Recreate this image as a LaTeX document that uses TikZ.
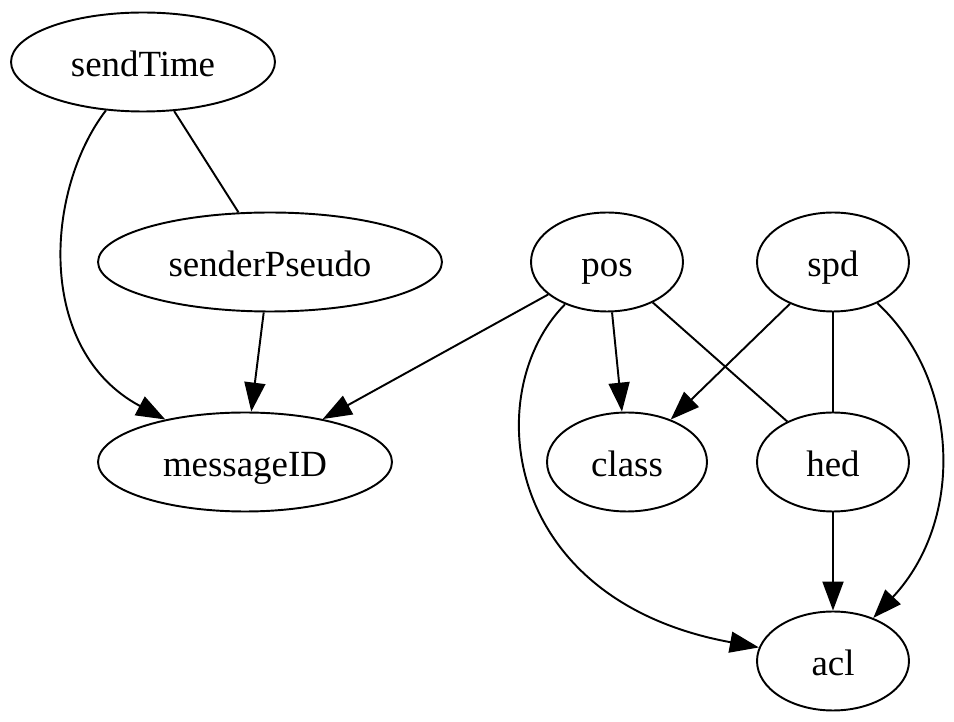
\documentclass[tikz,border=0pt]{standalone}
\usepackage{fontspec}
\setmainfont{Liberation Serif}
\usetikzlibrary{arrows.meta,shapes.geometric}

\begin{document}
\begin{tikzpicture}[
  x=0.02cm, y=-0.02cm,
  font=\fontsize{21}{25}\selectfont,
  var/.style={ellipse, draw=black, line width=1.1pt, inner sep=0pt, minimum height=1.98cm, text height=16pt, text depth=0pt},
  arr/.style={-{Triangle[length=0.58cm, width=0.42cm]}, line width=1.1pt},
  lnk/.style={line width=1.1pt}
]
\useasboundingbox (0,0) rectangle (954,722);
% upper row
\node[var, minimum width=5.28cm] (sendTime) at (143,62) {sendTime};
\node[var, minimum width=6.88cm] (senderPseudo) at (270,262) {senderPseudo};
\node[var, minimum width=3.04cm] (pos) at (607,262) {pos};
\node[var, minimum width=3.04cm] (spd) at (833,262) {spd};
% lower rows
\node[var, minimum width=5.88cm] (messageID) at (245,462) {messageID};
\node[var, minimum width=3.2cm] (class) at (627,462) {class};
\node[var, minimum width=3.04cm] (hed) at (833,462) {hed};
\node[var, minimum width=3.04cm] (acl) at (833,661) {acl};
% edges
\draw[arr] (sendTime) .. controls (45,190) and (35,350) .. (messageID);
\draw[lnk] (sendTime) -- (senderPseudo);
\draw[arr] (senderPseudo) -- (messageID);
\draw[arr] (pos) -- (messageID);
\draw[arr] (pos) -- (class);
\draw[lnk] (pos) -- (hed);
\draw[arr] (pos) .. controls (480,390) and (500,600) .. (acl);
\draw[arr] (spd) -- (class);
\draw[lnk] (spd) -- (hed);
\draw[arr] (spd) .. controls (960,380) and (965,520) .. (acl);
\draw[arr] (hed) -- (acl);
\end{tikzpicture}
\end{document}
